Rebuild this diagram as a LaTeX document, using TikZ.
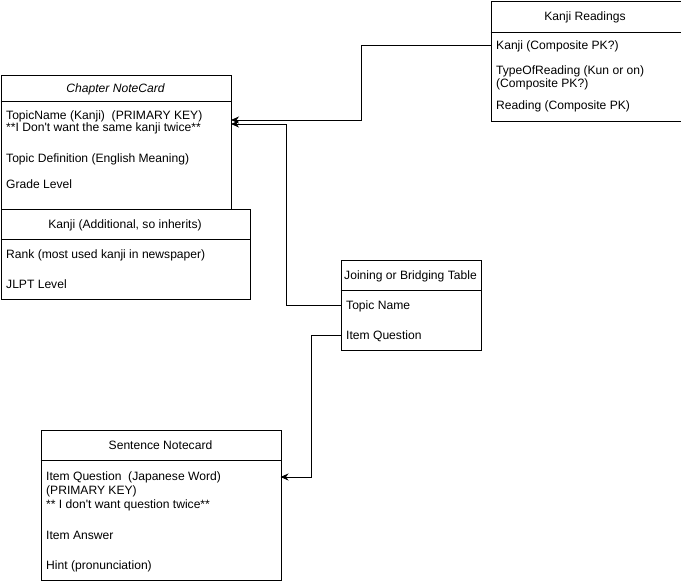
\documentclass[tikz,border=0pt]{standalone}
\usepackage{fontspec}
\setmainfont{Liberation Sans}
\usetikzlibrary{arrows.meta}
\newcommand{\apos}{\textquotesingle}
\begin{document}
\begin{tikzpicture}[x=1pt,y=-1pt,
  font=\fontsize{12.1}{13}\selectfont,
  tablebox/.style={draw, line width=1pt, fill=white, inner sep=0pt, anchor=north west},
  sep/.style={line width=1pt},
  title/.style={inner sep=0pt, anchor=base},
  row/.style={inner sep=0pt, anchor=base west, align=left},
  conn/.style={line width=1pt, -{Stealth[length=8pt,width=7pt,inset=2.5pt]}}
]
\useasboundingbox (0,0) rectangle (681,581);

% Kanji Readings table
\node[tablebox, minimum width=190pt, minimum height=120pt] (kr) at (490.5,1) {};
\draw[sep] (kr.west |- 0,32) -- (kr.east |- 0,32);
\node[title] (krt) at (585,20.5) {Kanji Readings};
\node[row] (krk) at (496,49.5) {Kanji (Composite PK?)};
\node[row] (krr) at (496,74.5) {TypeOfReading (Kun or on)};
\node[row] (krr2) at (496,87) {(Composite PK?)};
\node[row] (krc) at (496,109.5) {Reading (Composite PK)};
\coordinate (krIn) at (490.5,45);

% Chapter NoteCard table
\node[tablebox, minimum width=230pt, minimum height=134pt] (cn) at (0.5,75) {};
\draw[sep] (cn.west |- 0,101) -- (cn.east |- 0,101);
\node[title] (cnt) at (115.5,92.5) {\itshape Chapter NoteCard};
\node[row] (cnk) at (6,119) {TopicName (Kanji)\ \ (PRIMARY KEY)};
\node[row] (cnk2) at (6,131.5) {**I Don\apos t want the same kanji twice**};
\node[row] (cnd) at (6,162.5) {Topic Definition (English Meaning)};
\node[row] (cng) at (6,188.5) {Grade Level};
\coordinate (cnA) at (231,120);
\coordinate (cnB) at (231,124);

% Kanji (Additional) table
\node[tablebox, minimum width=249pt, minimum height=90pt] (kj) at (0.5,209) {};
\draw[sep] (kj.west |- 0,239) -- (kj.east |- 0,239);
\node[title] (kjt) at (125,228.5) {Kanji (Additional, so inherits)};
\node[row] (kjr) at (6,258.5) {Rank (most used kanji in newspaper)};
\node[row] (kjl) at (6,288.5) {JLPT Level};

% Joining or Bridging Table
\node[tablebox, minimum width=140pt, minimum height=90pt] (jb) at (340.5,260) {};
\draw[sep] (jb.west |- 0,290) -- (jb.east |- 0,290);
\node[title] (jbt) at (410.5,279.5) {Joining or Bridging Table};
\node[row] (jbn) at (346,309.5) {Topic Name};
\node[row] (jbq) at (346,339.5) {Item Question};

% Sentence Notecard table
\node[tablebox, minimum width=240pt, minimum height=150pt] (sn) at (40.5,430) {};
\draw[sep] (sn.west |- 0,460) -- (sn.east |- 0,460);
\node[title] (snt) at (160.5,449.5) {Sentence Notecard};
\node[row] (snq) at (46,480.5) {Item Question\ \ (Japanese Word)};
\node[row] (snq2) at (46,494.5) {(PRIMARY KEY)};
\node[row] (snq3) at (46,508.5) {** I don\apos t want question twice**};
\node[row] (sna) at (46,539.5) {Item Answer};
\node[row] (snh) at (46,569.5) {Hint (pronunciation)};
\coordinate (snA) at (280.5,477);

% Connectors
\draw[conn] (krIn) -- (361,45) -- (361,120) -- (cnA);
\draw[conn] (jb.west |- 0,305) -- (286,305) -- (286,124) -- (cnB);
\draw[conn] (jb.west |- 0,335) -- (311,335) -- (311,477) -- (snA);
\end{tikzpicture}
\end{document}
